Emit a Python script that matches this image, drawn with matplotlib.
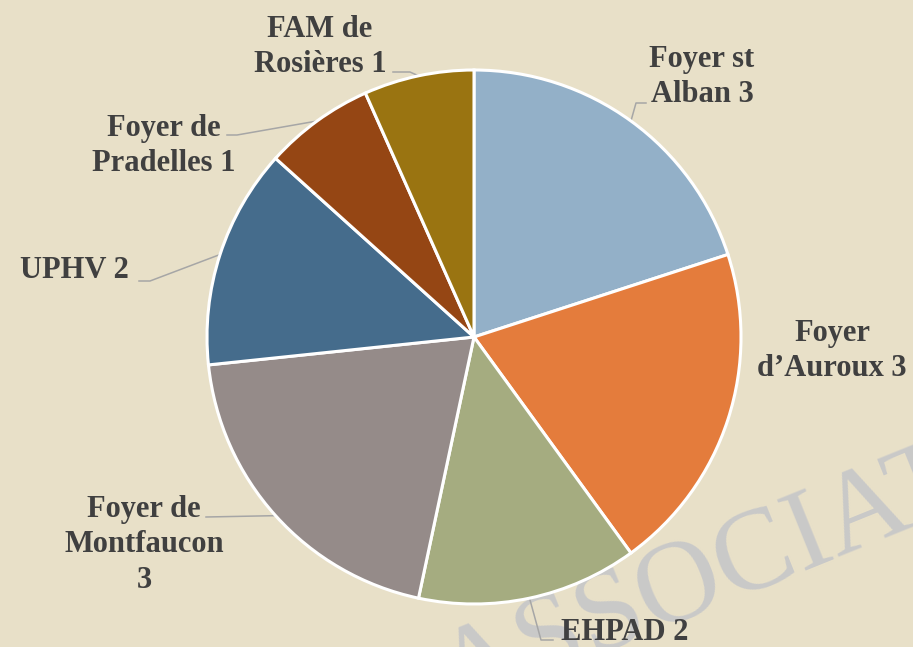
import matplotlib
matplotlib.use('Agg')
import matplotlib.pyplot as plt
import numpy as np

# Data
labels = ['Foyer st\nAlban 3', 'Foyer\nd\u2019Auroux 3', 'EHPAD 2',
          'Foyer de\nMontfaucon\n3', 'UPHV 2', 'Foyer de\nPradelles 1',
          'FAM de\nRosi\u00e8res 1']
values = [3, 3, 2, 3, 2, 1, 1]
colors = ['#93B0C8', '#E47C3C', '#A5AC80', '#958B89', '#456C8C',
          '#954614', '#9A7411']

# label centers and leader elbow (pixel coords, y down); None = no leader
label_pos = [(702, 77), (832, 351), (625, 632), (144, 545), (74, 270),
             (164, 146), (320, 47)]
elbows = [[(646, 103), (636, 103)], None, [(553, 640), (541, 640)],
          [(206, 517)], [(139, 281), (150, 281)], [(227, 135), (237, 135)],
          [(393, 72), (410, 72)]]

bg = '#E8E0C8'
fig = plt.figure(figsize=(9.13, 6.47), dpi=100, facecolor=bg)
ax = fig.add_axes([0, 0, 1, 1])
ax.set_facecolor(bg)

# watermark behind pie
ax.text(455, 712, 'ASSOCIATION', rotation=22, rotation_mode='anchor',
        ha='left', va='baseline', fontsize=84, family='Liberation Serif',
        color='#C9C9C9', zorder=0)

cx, cy, r = 474, 337, 267
wedges, _ = ax.pie(values, colors=colors, startangle=-90, counterclock=True,
                   center=(cx, cy), radius=r,
                   wedgeprops=dict(edgecolor='white', linewidth=2.2))
for w in wedges:
    w.set_zorder(2)

ax.set_xlim(0, 913)
ax.set_ylim(647, 0)
ax.set_aspect('auto')
ax.axis('off')

for w, lab, pos, elb in zip(wedges, labels, label_pos, elbows):
    ax.text(pos[0], pos[1], lab, ha='center', va='center', fontsize=22,
            family='Liberation Serif', fontweight='bold', color='#404040',
            linespacing=1.28, zorder=3)
    if elb is None:
        continue
    mid = np.deg2rad((w.theta1 + w.theta2) / 2)
    ex = w.center[0] + w.r * np.cos(mid)
    ey = w.center[1] + w.r * np.sin(mid)
    xs = [p[0] for p in elb] + [ex]
    ys = [p[1] for p in elb] + [ey]
    ax.plot(xs, ys, color='#A6A6A6', lw=1.1, zorder=1)

fig.savefig('out.png', dpi=100, facecolor=bg)
